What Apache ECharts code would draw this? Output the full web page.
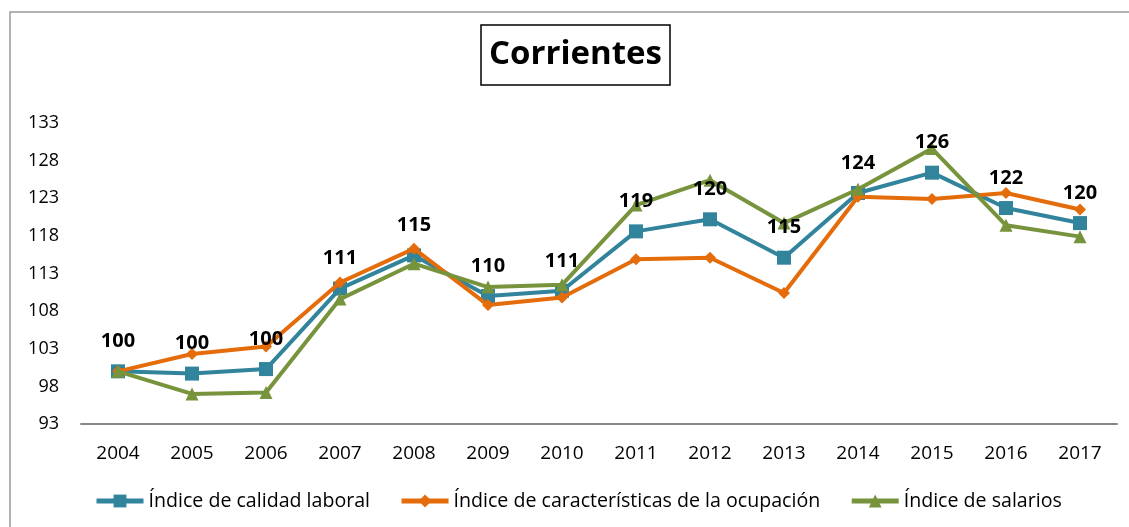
<!DOCTYPE html>
<html lang="es">
<head>
  <meta charset="UTF-8">
  <title>Corrientes</title>
  <style>
    * { margin: 0; padding: 0; }
    html, body { width: 100%; height: 100%; background: #fff; }
    #chart { width: 1129px; height: 527px; }
  </style>
</head>
<body>
  <div id="chart"></div>
  <script src="https://cdn.jsdelivr.net/npm/echarts@6/dist/echarts.min.js"></script>
  <script>
    // datos
    const years = ['2004', '2005', '2006', '2007', '2008', '2009', '2010', '2011', '2012', '2013', '2014', '2015', '2016', '2017'];
    const calidadLaboral = [100, 99.7, 100.3, 111.0, 115.4, 110.0, 110.7, 118.6, 120.2, 115.1, 123.7, 126.4, 121.7, 119.7];
    const caracteristicas = [100, 102.3, 103.3, 111.8, 116.3, 108.8, 109.8, 114.9, 115.1, 110.4, 123.2, 122.9, 123.7, 121.5];
    const salarios = [100, 97.0, 97.2, 109.6, 114.3, 111.2, 111.5, 122.1, 125.4, 119.7, 124.2, 129.6, 119.4, 117.9];
    const seriesNames = ['Índice de calidad laboral', 'Índice de características de la ocupación', 'Índice de salarios'];

    const FONT = 'Open Sans';
    const chart = echarts.init(document.getElementById('chart'), null, { renderer: 'canvas' });

    const option = {
      animation: false,
      color: ['#31849B', '#E46C0A', '#77933C'],
      textStyle: { fontFamily: FONT },
      title: {
        text: 'Corrientes',
        left: 481,
        top: 25,
        padding: [13, 8, 14, 8],
        borderColor: '#000',
        borderWidth: 1.5,
        textStyle: { fontFamily: FONT, fontSize: 33, fontWeight: 'bold', color: '#000' }
      },
      graphic: [{
        type: 'rect',
        shape: { x: 10, y: 12, width: 1300, height: 700 },
        style: { fill: 'none', stroke: '#9a9a9a', lineWidth: 1.5 },
        silent: true
      }],
      legend: {
        left: 94,
        top: 491,
        padding: 0,
        itemWidth: 47,
        itemHeight: 16,
        itemGap: 29,
        lineStyle: { width: 5 },
        textStyle: { fontFamily: FONT, fontSize: 19.6, color: '#000' },
        data: seriesNames
      },
      grid: { left: 81, right: 12, top: 123, bottom: 103, containLabel: false },
      xAxis: {
        type: 'category',
        data: years,
        boundaryGap: true,
        axisLine: { lineStyle: { color: '#888', width: 2 } },
        axisTick: { show: false },
        axisLabel: { color: '#000', fontSize: 19, fontFamily: FONT, margin: 20 },
        splitLine: { show: false }
      },
      yAxis: {
        type: 'value',
        min: 93,
        max: 133,
        interval: 5,
        axisLine: { show: false },
        axisTick: { show: false },
        splitLine: { show: false },
        axisLabel: { color: '#000', fontSize: 18, fontFamily: FONT, margin: 22 }
      },
      series: [
        {
          name: seriesNames[0],
          type: 'line',
          data: calidadLaboral,
          symbol: 'rect',
          symbolSize: 14,
          lineStyle: { width: 4 },
          z: 2
        },
        {
          name: seriesNames[1],
          type: 'line',
          data: caracteristicas,
          symbol: 'diamond',
          symbolSize: 12,
          lineStyle: { width: 4 },
          z: 3
        },
        {
          name: seriesNames[2],
          type: 'line',
          data: salarios,
          symbol: 'triangle',
          symbolSize: 13,
          lineStyle: { width: 4 },
          z: 4
        },
        {
          // etiquetas de calidad laboral, dibujadas por encima de todo
          name: 'etiquetas',
          type: 'line',
          data: calidadLaboral,
          symbol: 'circle',
          symbolSize: 14,
          showSymbol: true,
          itemStyle: { color: 'rgba(0,0,0,0)' },
          lineStyle: { opacity: 0 },
          silent: true,
          label: {
            show: true,
            position: 'top',
            distance: 13,
            color: '#000',
            fontSize: 20,
            fontWeight: 'bold',
            fontFamily: FONT,
            formatter: p => Math.round(p.value)
          },
          z: 10
        }
      ]
    };

    chart.setOption(option);
  </script>
</body>
</html>
